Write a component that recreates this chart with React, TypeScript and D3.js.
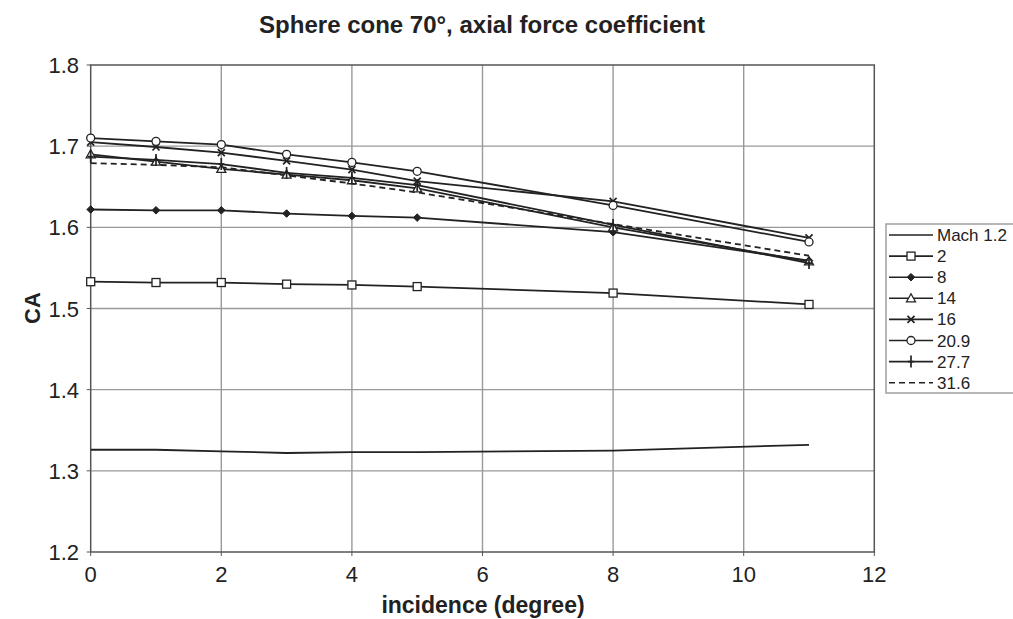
import React from "react";
import * as d3 from "d3";

const incidence = [0, 1, 2, 3, 4, 5, 8, 11];
const seriesNames = ["Mach 1.2", "2", "8", "14", "16", "20.9", "27.7", "31.6"];
const mach12 = [1.326, 1.326, 1.324, 1.322, 1.323, 1.323, 1.325, 1.332];
const mach2 = [1.533, 1.532, 1.532, 1.530, 1.529, 1.527, 1.519, 1.505];
const mach8 = [1.622, 1.621, 1.621, 1.617, 1.614, 1.612, 1.594, 1.559];
const mach14 = [1.690, 1.681, 1.672, 1.665, 1.658, 1.648, 1.600, 1.558];
const mach16 = [1.705, 1.699, 1.692, 1.682, 1.671, 1.657, 1.632, 1.587];
const mach209 = [1.710, 1.706, 1.702, 1.690, 1.680, 1.669, 1.627, 1.582];
const mach277 = [1.687, 1.683, 1.678, 1.667, 1.661, 1.652, 1.603, 1.556];
const mach316 = [1.679, 1.677, 1.674, 1.664, 1.654, 1.643, 1.604, 1.565];
const xTicks = [0, 2, 4, 6, 8, 10, 12];
const yTicks = [1.2, 1.3, 1.4, 1.5, 1.6, 1.7, 1.8];

const allSeries = [mach12, mach2, mach8, mach14, mach16, mach209, mach277, mach316];
const markers = ["none", "square", "diamond", "triangle", "cross", "circle", "plus", "none"];

const W = 1013, H = 619;
const L = 90.7, R = 874.3, T = 65, B = 552;
const FONT = "'Liberation Sans', Arial, sans-serif";

function Marker({ type, x, y }: { type: string; x: number; y: number }) {
  const s = 4;
  if (type === "square")
    return <rect x={x - s} y={y - s} width={2 * s} height={2 * s} fill="white" stroke="#222" strokeWidth={1.3} />;
  if (type === "diamond")
    return <path d={`M${x},${y - 3.8}L${x + 3.8},${y}L${x},${y + 3.8}L${x - 3.8},${y}Z`} fill="#222" stroke="#222" strokeWidth={1} />;
  if (type === "triangle")
    return <path d={`M${x},${y - 4.5}L${x + 4.5},${y + 3.5}L${x - 4.5},${y + 3.5}Z`} fill="white" stroke="#222" strokeWidth={1.3} />;
  if (type === "cross")
    return <path d={`M${x - 3.5},${y - 3.5}L${x + 3.5},${y + 3.5}M${x + 3.5},${y - 3.5}L${x - 3.5},${y + 3.5}`} stroke="#222" strokeWidth={1.7} />;
  if (type === "circle")
    return <circle cx={x} cy={y} r={4} fill="white" stroke="#222" strokeWidth={1.3} />;
  if (type === "plus")
    return <path d={`M${x},${y - 6}L${x},${y + 6}M${x - 3},${y}L${x + 3},${y}`} stroke="#222" strokeWidth={1.7} />;
  return null;
}

export default function App() {
  const x = d3.scaleLinear().domain([0, 12]).range([L, R]);
  const y = d3.scaleLinear().domain([1.2, 1.8]).range([B, T]);
  const line = d3.line<number>().x((_, i) => x(incidence[i])).y((d) => y(d));

  const legX = 886, legY = 224, legRow = 21.1;

  return (
    <svg width={W} height={H} style={{ position: "absolute", left: 0, top: 0, background: "white" }} fontFamily={FONT}>
      <rect x={0} y={0} width={W} height={H} fill="white" />
      <text x={482} y={33} textAnchor="middle" fontSize={24} fontWeight="bold" fill="#222">
        Sphere cone 70°, axial force coefficient
      </text>
      {xTicks.slice(1, -1).map((t) => (
        <line key={"gx" + t} x1={x(t)} x2={x(t)} y1={T} y2={B} stroke="#999" strokeWidth={1.4} />
      ))}
      {yTicks.slice(1, -1).map((t) => (
        <line key={"gy" + t} x1={L} x2={R} y1={y(t)} y2={y(t)} stroke="#999" strokeWidth={1.4} />
      ))}
      <rect x={L} y={T} width={R - L} height={B - T} fill="none" stroke="#555" strokeWidth={1.5} />
      {xTicks.map((t) => (
        <g key={"tx" + t}>
          <line x1={x(t)} x2={x(t)} y1={B} y2={B + 4} stroke="#555" />
          <text x={x(t)} y={582} textAnchor="middle" fontSize={22} fill="#222">{t}</text>
        </g>
      ))}
      {yTicks.map((t) => (
        <g key={"ty" + t}>
          <line x1={L - 4} x2={L} y1={y(t)} y2={y(t)} stroke="#555" />
          <text x={79} y={y(t) + 8} textAnchor="end" fontSize={22} fill="#222">{t.toFixed(1)}</text>
        </g>
      ))}
      <text x={483} y={613} textAnchor="middle" fontSize={23} fontWeight="bold" fill="#222">incidence (degree)</text>
      <text transform={`translate(40,${308}) rotate(-90)`} textAnchor="middle" fontSize={22} fontWeight="bold" fill="#222">CA</text>
      {allSeries.map((s, i) => (
        <path key={"s" + i} d={line(s) || ""} fill="none" stroke="#222" strokeWidth={1.8} strokeDasharray={i === 7 ? "6,4" : undefined} />
      ))}
      {allSeries.map((s, i) =>
        s.map((v, j) => <Marker key={`m${i}-${j}`} type={markers[i]} x={x(incidence[j])} y={y(v)} />)
      )}
      <rect x={legX} y={legY} width={140} height={169} fill="white" stroke="#999" strokeWidth={1.4} />
      {seriesNames.map((n, i) => {
        const cy = legY + 11 + i * legRow;
        return (
          <g key={"l" + i}>
            <line x1={889} x2={933} y1={cy} y2={cy} stroke="#222" strokeWidth={1.6} strokeDasharray={i === 7 ? "6,4" : undefined} />
            <Marker type={markers[i]} x={911} y={cy} />
            <text x={937} y={cy + 6} fontSize={17} fill="#222">{n}</text>
          </g>
        );
      })}
    </svg>
  );
}
